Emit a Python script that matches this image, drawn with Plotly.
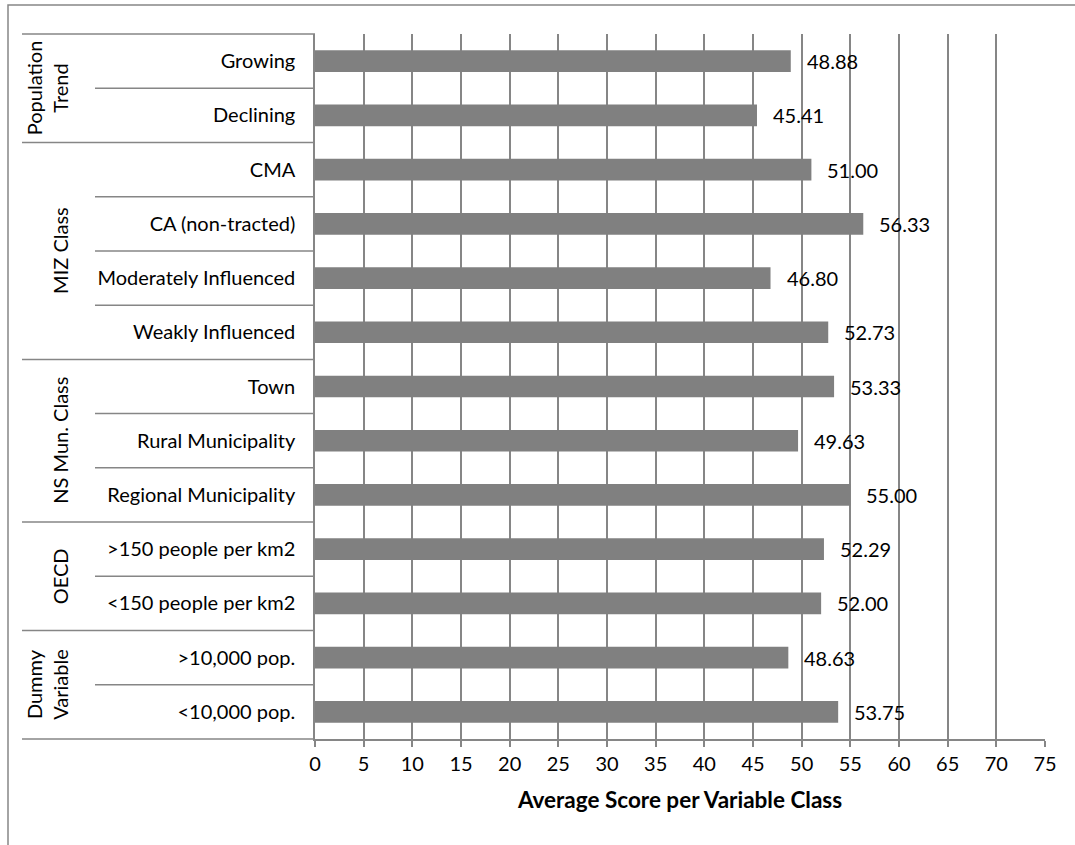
import html
import plotly.graph_objects as go

# Variable classes (top to bottom) and their average scores
categories = [
    "Growing", "Declining",
    "CMA", "CA (non-tracted)", "Moderately Influenced", "Weakly Influenced",
    "Town", "Rural Municipality", "Regional Municipality",
    ">150 people per km2", "<150 people per km2",
    ">10,000 pop.", "<10,000 pop.",
]
scores = [48.88, 45.41, 51.00, 56.33, 46.80, 52.73, 53.33, 49.63, 55.00,
          52.29, 52.00, 48.63, 53.75]

# Grouping variables and how many classes each one holds
group_names = ["Population<br>Trend", "MIZ Class", "NS Mun. Class", "OECD", "Dummy<br>Variable"]
group_sizes = [2, 4, 3, 2, 2]

x_ticks = list(range(0, 80, 5))

FONT = "Lato"
GRID = "#868686"
BAR = "#808080"
LABEL_SIZE = 20

W, H = 1075, 845
L, R, T, B = 315, 30, 34, 106
plot_w = W - L - R
plot_h = H - T - B


def px_to_paper_x(px):
    return (px - L) / plot_w


def px_to_paper_y(py):
    return (H - B - py) / plot_h


n = len(categories)

fig = go.Figure()
fig.add_trace(go.Bar(
    x=scores,
    y=categories,
    orientation="h",
    width=0.4,
    marker=dict(color=BAR, line=dict(width=0)),
    hoverinfo="x+y",
))

# Value labels to the right of each bar
for cat, val in zip(categories, scores):
    fig.add_annotation(
        x=val, y=cat, xref="x", yref="y",
        text=f"{val:.2f}", showarrow=False,
        xanchor="left", yanchor="middle", xshift=14,
        font=dict(family=FONT, size=LABEL_SIZE, color="#000000"),
    )

shapes = []
# Horizontal dividers in the category label area
boundaries = {0}
acc = 0
for s in group_sizes:
    acc += s
    boundaries.add(acc)
for b in range(n + 1):
    x0 = px_to_paper_x(22) if b in boundaries else px_to_paper_x(95)
    yp = 1 - b / n
    shapes.append(dict(type="line", xref="paper", yref="paper",
                       x0=x0, x1=0, y0=yp, y1=yp,
                       line=dict(color=GRID, width=1.5)))

# Chart border
shapes.append(dict(type="rect", xref="paper", yref="paper",
                   x0=px_to_paper_x(8), x1=px_to_paper_x(W + 20),
                   y0=px_to_paper_y(H + 20), y1=px_to_paper_y(5),
                   line=dict(color=GRID, width=1.5), fillcolor="rgba(0,0,0,0)",
                   layer="below"))

# Rotated group labels
start = 0
for name, size in zip(group_names, group_sizes):
    center = start + size / 2
    fig.add_annotation(
        x=px_to_paper_x(74), y=1 - center / n, xref="paper", yref="paper",
        text=name, showarrow=False, textangle=-90,
        xanchor="right", yanchor="middle",
        font=dict(family=FONT, size=LABEL_SIZE, color="#000000"),
    )
    start += size

fig.update_layout(
    width=W, height=H,
    margin=dict(l=L, r=R, t=T, b=B, pad=0),
    paper_bgcolor="white",
    plot_bgcolor="white",
    showlegend=False,
    bargap=0.6,
    shapes=shapes,
    font=dict(family=FONT, size=LABEL_SIZE, color="#000000"),
    xaxis=dict(
        range=[0, 75],
        tickvals=x_ticks,
        ticktext=[str(v) for v in x_ticks],
        showgrid=True, gridcolor=GRID, gridwidth=1.5,
        zeroline=False,
        showline=True, linecolor=GRID, linewidth=1.5,
        ticks="outside", ticklen=6, tickcolor=GRID, tickwidth=1.5,
        tickfont=dict(family=FONT, size=LABEL_SIZE, color="#000000"),
        title=dict(text="<b>Average Score per Variable Class</b>",
                   font=dict(family=FONT, size=22.5, color="#000000"),
                   standoff=18),
        fixedrange=True,
    ),
    yaxis=dict(
        autorange="reversed",
        tickvals=categories,
        ticktext=[html.escape(c) for c in categories],
        showgrid=False, zeroline=False,
        showline=True, linecolor=GRID, linewidth=1.5,
        ticks="",
        ticklabelstandoff=14,
        tickfont=dict(family=FONT, size=LABEL_SIZE, color="#000000"),
        fixedrange=True,
    ),
)

fig.write_html("out.html")
